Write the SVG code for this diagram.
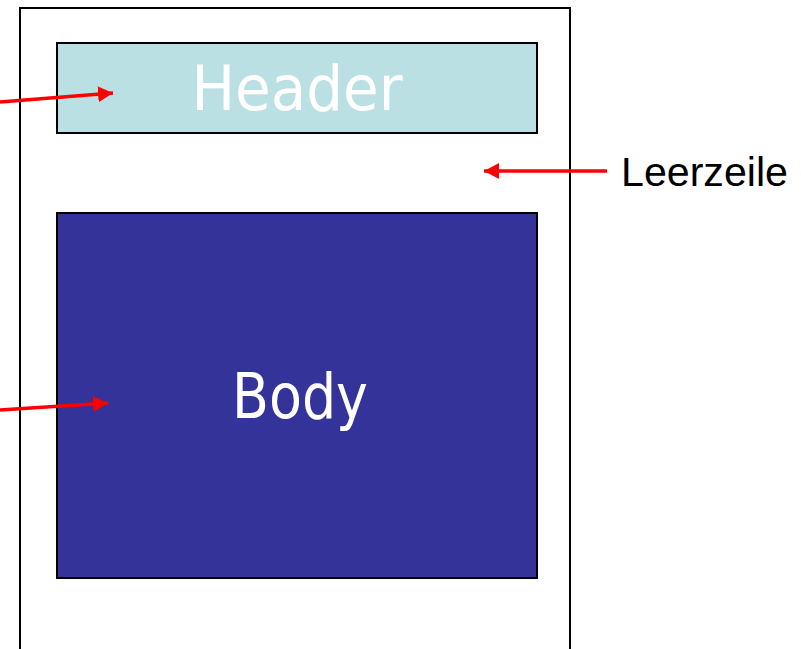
<svg xmlns="http://www.w3.org/2000/svg" width="801" height="649" viewBox="0 0 801 649">
  <style>
    .frame { fill: #ffffff; stroke: #000000; stroke-width: 2; }
    .box { stroke: #000000; stroke-width: 2; }
    .hand { font-family: "Comic Sans MS", "DejaVu Sans", sans-serif; fill: #ffffff; text-anchor: middle; }
    .label { font-family: "Liberation Sans", Arial, sans-serif; font-size: 40px; fill: #000000; }
    .arrow { stroke: #ff0000; stroke-width: 3.5; fill: none; marker-end: url(#head); }
  </style>
  <defs>
    <marker id="head" markerUnits="userSpaceOnUse" markerWidth="17" markerHeight="17" refX="15" refY="8" orient="auto">
      <path d="M0,0 L15,8 L0,16 Z" fill="#ff0000"/>
    </marker>
  </defs>

  <rect width="801" height="649" fill="#ffffff"/>

  <!-- page outline -->
  <g id="page">
    <rect class="frame" x="20" y="8" width="550" height="680"/>
  </g>

  <!-- header block -->
  <g id="header">
    <rect class="box" x="57" y="43" width="480" height="90" fill="#bbe0e3"/>
    <text class="hand" x="297" y="110" font-size="62" textLength="211" lengthAdjust="spacingAndGlyphs">Header</text>
  </g>

  <!-- body block -->
  <g id="body">
    <rect class="box" x="57" y="213" width="480" height="365" fill="#333399"/>
    <text class="hand" x="300" y="418" font-size="62" textLength="136" lengthAdjust="spacingAndGlyphs">Body</text>
  </g>

  <!-- blank line label -->
  <g id="leerzeile">
    <text class="label" x="621" y="186" textLength="167" lengthAdjust="spacingAndGlyphs">Leerzeile</text>
  </g>

  <!-- pointers -->
  <g id="connectors">
    <line class="arrow" x1="0" y1="102" x2="113" y2="93"/>
    <line class="arrow" x1="0" y1="410" x2="108" y2="403"/>
    <line class="arrow" x1="607" y1="171" x2="484" y2="171"/>
  </g>
</svg>
